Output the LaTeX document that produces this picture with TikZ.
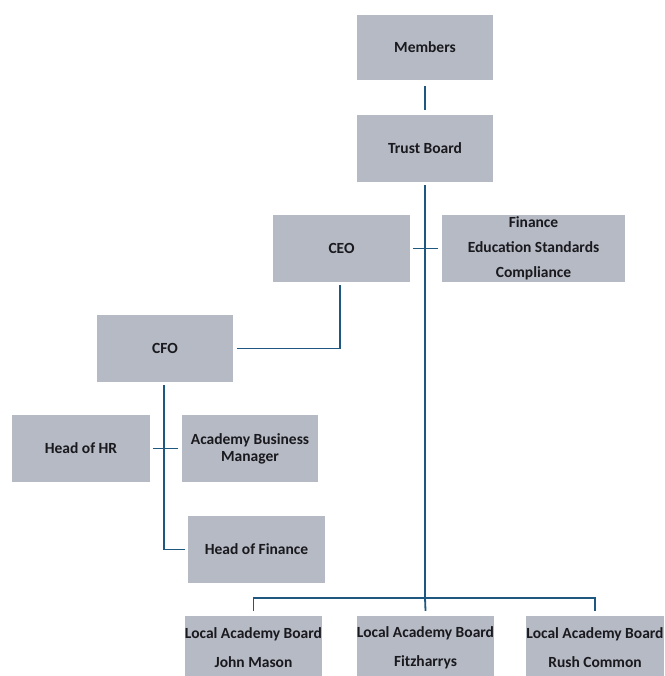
\documentclass[tikz,border=0pt]{standalone}
\usepackage{fontspec}
\setmainfont{Carlito}
\definecolor{boxfill}{RGB}{182,186,196}
\definecolor{linecol}{RGB}{30,88,128}
\definecolor{txtcol}{RGB}{25,25,30}
\begin{document}
\begin{tikzpicture}[x=1pt,y=1pt,
  box/.style={rectangle, fill=boxfill, draw=none, minimum width=136pt, minimum height=67pt,
    inner sep=0pt, align=center, text=txtcol, font=\bfseries\fontsize{15.5}{18}\selectfont},
  conn/.style={draw=linecol, line width=1.8pt}]
\useasboundingbox (0,0) rectangle (664,676);
\clip (0,0) rectangle (664,676);
\fill[white] (0,0) rectangle (664,676);
\node[box, minimum height=65pt] (members) at (425,628.5) {Members};
\node[box] (trust) at (425,527.5) {Trust Board};
\node[box, minimum width=137pt] (ceo) at (341.5,427.5) {CEO};
\node[box, minimum width=183pt, font=\bfseries\fontsize{15.5}{25}\selectfont] (fin) at (533.5,427.5) {Finance\\Education Standards\\Compliance};
\node[box] (cfo) at (165,327.5) {CFO};
\node[box, minimum width=138pt] (hr) at (81,227.5) {Head of HR};
\node[box, font=\bfseries\fontsize{15.5}{17}\selectfont] (abm) at (250,227.5) {Academy Business\\Manager};
\node[box, minimum width=137pt] (hof) at (256.5,126.5) {Head of Finance};
\node[box, minimum width=137pt, minimum height=64pt, font=\bfseries\fontsize{15.5}{29}\selectfont] (lab1) at (253.5,28) {Local Academy Board\\John Mason};
\node[box, minimum width=135pt, minimum height=64pt, font=\bfseries\fontsize{15.5}{29}\selectfont] (lab2) at (425.5,28) {Local Academy Board\\Fitzharrys};
\node[box, minimum width=136pt, minimum height=64pt, font=\bfseries\fontsize{15.5}{29}\selectfont] (lab3) at (595,28) {Local Academy Board\\Rush Common};
\coordinate (bar) at (425,78);
% connectors
\draw[conn] ([yshift=-6pt]members.south) -- ([yshift=5pt]trust.north);
\draw[conn] ([yshift=-3pt]trust.south) -- (bar);
\draw[conn] ([yshift=5pt]lab1.north) |- (bar) -| ([yshift=5pt]lab3.north);
\draw[conn] (bar) -- ([yshift=5pt]lab2.north);
\draw[conn] ([xshift=3pt]ceo.east) -- ([xshift=-4pt]fin.west);
\draw[conn] ([xshift=-1.5pt,yshift=-3pt]ceo.south) |- ([xshift=4pt]cfo.east);
\draw[conn] ([xshift=-1pt,yshift=-3pt]cfo.south) |- ([xshift=-3pt]hof.west);
\draw[conn] ([xshift=3pt]hr.east) -- ([xshift=-4pt]abm.west);
\end{tikzpicture}
\end{document}
